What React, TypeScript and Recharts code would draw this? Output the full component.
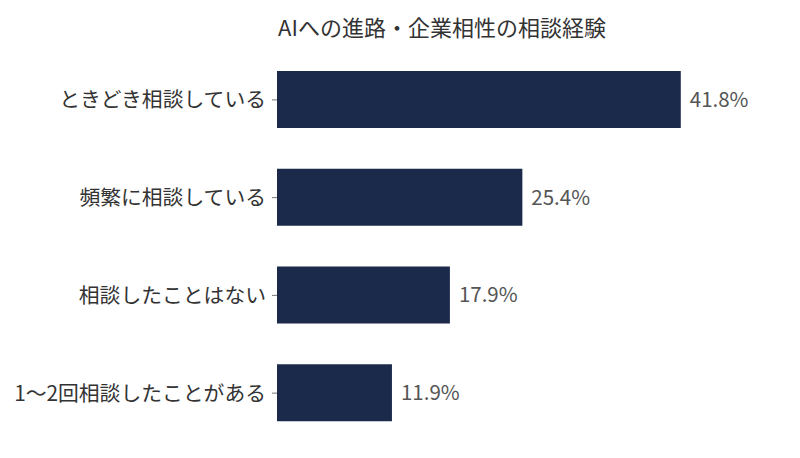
import React from "react";
import { BarChart, Bar, XAxis, YAxis, LabelList } from "recharts";

const categories = ["ときどき相談している", "頻繁に相談している", "相談したことはない", "1〜2回相談したことがある"];
const values = [41.8, 25.4, 17.9, 11.9];
const title = "AIへの進路・企業相性の相談経験";

const data = categories.map((name, i) => ({ name, value: values[i] }));
const FONT = '"Noto Sans CJK JP", "Noto Sans", sans-serif';

export default function App() {
  return (
    <div style={{ position: "absolute", left: 0, top: 0, width: 800, height: 458, background: "#fff", fontFamily: FONT }}>
      <div
        style={{
          position: "absolute",
          left: 0,
          width: 884,
          top: 12,
          textAlign: "center",
          fontSize: 22,
          lineHeight: "28px",
          color: "#333",
        }}
      >
        {title}
      </div>
      <BarChart
        width={800}
        height={458}
        data={data}
        layout="vertical"
        margin={{ top: 51, right: 40, bottom: 16, left: 0 }}
      >
        <XAxis type="number" domain={[0, 50]} hide />
        <YAxis
          type="category"
          dataKey="name"
          width={277}
          axisLine={false}
          tickLine={{ stroke: "#777" }}
          tickSize={5}
          tickMargin={6}
          tick={{ fontSize: 20.8, fill: "#333", fontFamily: FONT }}
        />
        <Bar dataKey="value" fill="#1b2a4a" barSize={57} isAnimationActive={false}>
          <LabelList
            dataKey="value"
            position="right"
            offset={9}
            formatter={(v: any) => `${v}%`}
            style={{ fontSize: 20.5, fill: "#555", fontFamily: FONT }}
          />
        </Bar>
      </BarChart>
    </div>
  );
}
